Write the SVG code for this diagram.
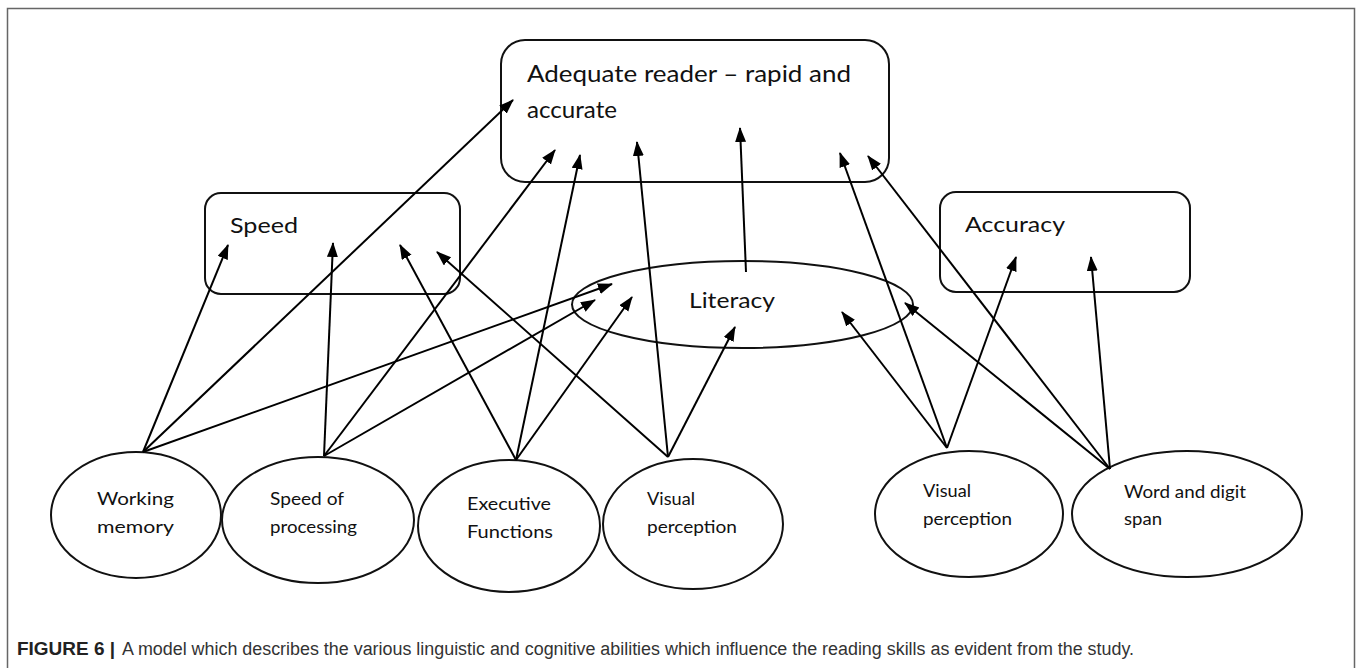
<svg xmlns="http://www.w3.org/2000/svg" width="1357" height="668" viewBox="0 0 1357 668">
<style>
.box{fill:#fff;stroke:#111;stroke-width:2}
.ell{fill:#fff;stroke:#111;stroke-width:2}
.lbl{font-family:Lato,"Open Sans","Liberation Sans",sans-serif;fill:#111}
.big{font-size:23px}
.mid{font-size:21px}
.sm{font-size:17.5px}
.edge{stroke:#000;stroke-width:2;fill:none;marker-end:url(#ah)}
.cap{font-family:"Liberation Sans",Arial,sans-serif;font-size:18px}
</style>
<defs>
<marker id="ah" markerUnits="userSpaceOnUse" markerWidth="16" markerHeight="12" refX="14" refY="5.5" orient="auto">
<path d="M0,0 L15,5.5 L0,11 z" fill="#000"/>
</marker>
</defs>
<rect x="0" y="0" width="1357" height="668" fill="#fff"/>
<path d="M7.5,668 V8.5 H1354.5 V668" fill="none" stroke="#666" stroke-width="1.5"/>

<g id="node-adequate">
<rect class="box" x="501" y="40" width="388" height="142" rx="24"/>
<text class="lbl big" x="527" y="82" textLength="324" lengthAdjust="spacingAndGlyphs">Adequate reader – rapid and</text>
<text class="lbl big" x="527" y="118" textLength="90" lengthAdjust="spacingAndGlyphs">accurate</text>
</g>
<g id="node-speed">
<rect class="box" x="205" y="193" width="255" height="101" rx="16"/>
<text class="lbl mid" x="230" y="233" textLength="68" lengthAdjust="spacingAndGlyphs">Speed</text>
</g>
<g id="node-accuracy">
<rect class="box" x="940" y="192" width="250" height="100" rx="16"/>
<text class="lbl mid" x="965" y="232" textLength="100" lengthAdjust="spacingAndGlyphs">Accuracy</text>
</g>
<g id="node-literacy">
<ellipse class="ell" cx="742.5" cy="304.5" rx="170.5" ry="43.5"/>
<text class="lbl mid" x="689" y="308" textLength="86" lengthAdjust="spacingAndGlyphs">Literacy</text>
</g>

<g id="node-working-memory">
<ellipse class="ell" cx="136" cy="515" rx="85" ry="63"/>
<text class="lbl sm" x="97" y="505" textLength="77" lengthAdjust="spacingAndGlyphs">Working</text>
<text class="lbl sm" x="97" y="533" textLength="77" lengthAdjust="spacingAndGlyphs">memory</text>
</g>
<g id="node-speed-of-processing">
<ellipse class="ell" cx="318" cy="520" rx="96" ry="63"/>
<text class="lbl sm" x="270" y="505" textLength="74" lengthAdjust="spacingAndGlyphs">Speed of</text>
<text class="lbl sm" x="270" y="533" textLength="87" lengthAdjust="spacingAndGlyphs">processing</text>
</g>
<g id="node-executive-functions">
<ellipse class="ell" cx="509" cy="526" rx="91" ry="66"/>
<text class="lbl sm" x="467" y="510" textLength="84" lengthAdjust="spacingAndGlyphs">Executive</text>
<text class="lbl sm" x="467" y="538" textLength="86" lengthAdjust="spacingAndGlyphs">Functions</text>
</g>
<g id="node-visual-perception-1">
<ellipse class="ell" cx="693" cy="524" rx="90" ry="65"/>
<text class="lbl sm" x="647" y="505" textLength="48" lengthAdjust="spacingAndGlyphs">Visual</text>
<text class="lbl sm" x="647" y="533" textLength="90" lengthAdjust="spacingAndGlyphs">perception</text>
</g>
<g id="node-visual-perception-2">
<ellipse class="ell" cx="969" cy="514" rx="94" ry="63"/>
<text class="lbl sm" x="923" y="497" textLength="48" lengthAdjust="spacingAndGlyphs">Visual</text>
<text class="lbl sm" x="923" y="525" textLength="89" lengthAdjust="spacingAndGlyphs">perception</text>
</g>
<g id="node-word-digit-span">
<ellipse class="ell" cx="1187" cy="514" rx="115" ry="63"/>
<text class="lbl sm" x="1124" y="498" textLength="122" lengthAdjust="spacingAndGlyphs">Word and digit</text>
<text class="lbl sm" x="1124" y="525" textLength="38" lengthAdjust="spacingAndGlyphs">span</text>
</g>

<g id="connectors">
<line class="edge" x1="143" y1="452" x2="228" y2="245"/>
<line class="edge" x1="143" y1="452" x2="513" y2="100"/>
<line class="edge" x1="143" y1="452" x2="612" y2="284"/>
<line class="edge" x1="324" y1="456" x2="333" y2="243"/>
<line class="edge" x1="324" y1="456" x2="555" y2="150"/>
<line class="edge" x1="324" y1="456" x2="595" y2="300"/>
<line class="edge" x1="516" y1="460" x2="400" y2="245"/>
<line class="edge" x1="516" y1="460" x2="580" y2="155"/>
<line class="edge" x1="516" y1="460" x2="632" y2="297"/>
<line class="edge" x1="668" y1="457" x2="437" y2="252"/>
<line class="edge" x1="668" y1="457" x2="637" y2="142"/>
<line class="edge" x1="668" y1="457" x2="735" y2="327"/>
<line class="edge" x1="746" y1="272" x2="740" y2="128"/>
<line class="edge" x1="947" y1="448" x2="842" y2="312"/>
<line class="edge" x1="947" y1="448" x2="840" y2="153"/>
<line class="edge" x1="947" y1="448" x2="1016" y2="257"/>
<line class="edge" x1="1110" y1="469" x2="905" y2="303"/>
<line class="edge" x1="1110" y1="469" x2="868" y2="156"/>
<line class="edge" x1="1110" y1="469" x2="1091" y2="257"/>
</g>

<text class="cap" x="17" y="655" font-weight="bold" fill="#222" textLength="98" lengthAdjust="spacingAndGlyphs">FIGURE 6 |</text>
<text class="cap" x="122" y="655" fill="#333" textLength="1012" lengthAdjust="spacingAndGlyphs">A model which describes the various linguistic and cognitive abilities which influence the reading skills as evident from the study.</text>
</svg>
